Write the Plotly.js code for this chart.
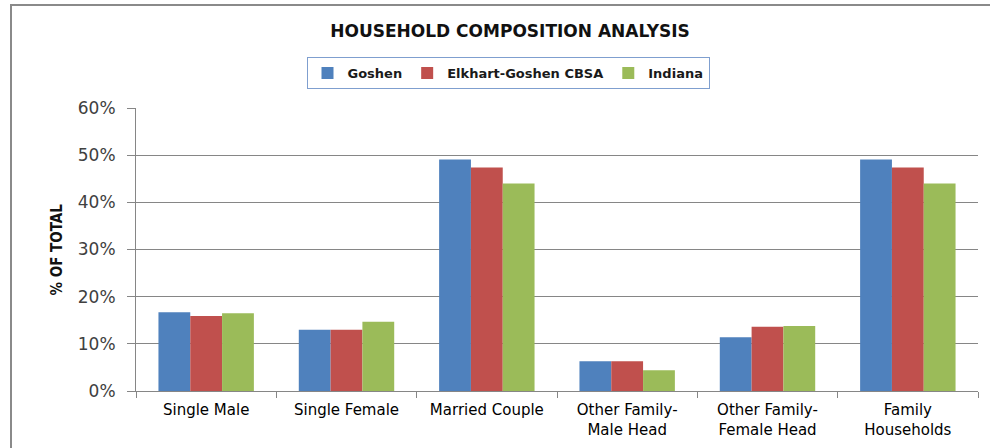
<!DOCTYPE html>
<html>
<head>
<meta charset="utf-8">
<script src="https://cdn.plot.ly/plotly-3.0.1.min.js"></script>
<style>
html,body{margin:0;padding:0;background:#fff;}
#chart{width:990px;height:448px;}
</style>
</head>
<body>
<div id="chart"></div>
<script>
var categories = ["Single Male", "Single Female", "Married Couple", "Other Family-<br>Male Head", "Other Family-<br>Female Head", "Family<br>Households"];
var seriesNames = ["Goshen", "Elkhart-Goshen CBSA", "Indiana"];
var goshen = [0.167, 0.130, 0.491, 0.063, 0.114, 0.491];
var elkhartGoshen = [0.159, 0.130, 0.474, 0.063, 0.136, 0.474];
var indiana = [0.165, 0.147, 0.440, 0.044, 0.138, 0.440];
var yTickVals = [0, 0.1, 0.2, 0.3, 0.4, 0.5, 0.6];
var yTickText = ["0%", "10%", "20%", "30%", "40%", "50%", "60%"];
var colors = ["#4f81bd", "#c0504d", "#9bbb59"];

var values = [goshen, elkhartGoshen, indiana];
var traces = values.map(function(v, i){
  return {type: "bar", name: "<b>" + seriesNames[i] + "</b>", x: categories, y: v,
    marker: {color: colors[i], line: {width: 0}}, hoverinfo: "x+y"};
});

var W = 990, H = 448, ml = 136, mr = 12, mt = 108, mb = 57;
var pw = W - ml - mr, ph = H - mt - mb;
function px(x){ return (x - ml) / pw; }
function py(y){ return (H - mb - y) / ph; }

var wide = "'DejaVu Sans', Verdana, sans-serif";
var narrow = "'Liberation Sans Narrow', 'DejaVu Sans Condensed', 'Arial Narrow', sans-serif";
var layout = {
  width: W, height: H,
  margin: {l: ml, r: mr, t: mt, b: mb, pad: 0},
  paper_bgcolor: "#ffffff", plot_bgcolor: "#ffffff",
  font: {family: wide, color: "#1a1a1a"},
  title: {text: "<b>HOUSEHOLD COMPOSITION ANALYSIS</b>", font: {size: 17, color: "#111", family: wide},
    x: 510 / W, xanchor: "center", xref: "container", y: 1 - 31 / H, yanchor: "middle", yref: "container"},
  barmode: "group", bargap: 0.32, bargroupgap: 0,
  showlegend: true,
  legend: {orientation: "h", x: px(508), xanchor: "center", y: py(57), yanchor: "top",
    bordercolor: "#7f9fcf", borderwidth: 1, bgcolor: "#fff",
    font: {size: 13, color: "#1a1a1a", family: wide},
    itemwidth: 30, tracegroupgap: 0, traceorder: "normal"},
  xaxis: {type: "category", showgrid: false, showline: true, linecolor: "#868686", linewidth: 1,
    ticks: "outside", tickson: "boundaries", ticklen: 6, tickcolor: "#868686",
    tickfont: {size: 15, color: "#000", family: wide}, ticklabelstandoff: 5,
    fixedrange: true, automargin: false},
  yaxis: {range: [0, 0.6], tickvals: yTickVals, ticktext: yTickText, showgrid: true,
    gridcolor: "#868686", gridwidth: 1, showline: true, linecolor: "#868686", linewidth: 1,
    ticks: "outside", ticklen: 8, tickcolor: "#868686", zeroline: false,
    tickfont: {size: 17, color: "#404040", family: wide},
    ticklabelstandoff: 8, fixedrange: true, automargin: false},
  annotations: [{text: "<b>% OF TOTAL</b>", textangle: -90, xref: "paper", yref: "paper",
    x: px(56), y: 0.5, xanchor: "center", yanchor: "middle", showarrow: false,
    font: {size: 15, color: "#111", family: narrow}}],
  shapes: [
    {type: "line", xref: "paper", yref: "paper", x0: px(11), x1: px(11), y0: py(4), y1: py(460), line: {color: "#8a8a8a", width: 2}},
    {type: "line", xref: "paper", yref: "paper", x0: px(10), x1: px(1000), y0: py(5), y1: py(5), line: {color: "#8a8a8a", width: 2}}
  ]
};

Plotly.newPlot("chart", traces, layout, {displayModeBar: false, staticPlot: true});
</script>
</body>
</html>
